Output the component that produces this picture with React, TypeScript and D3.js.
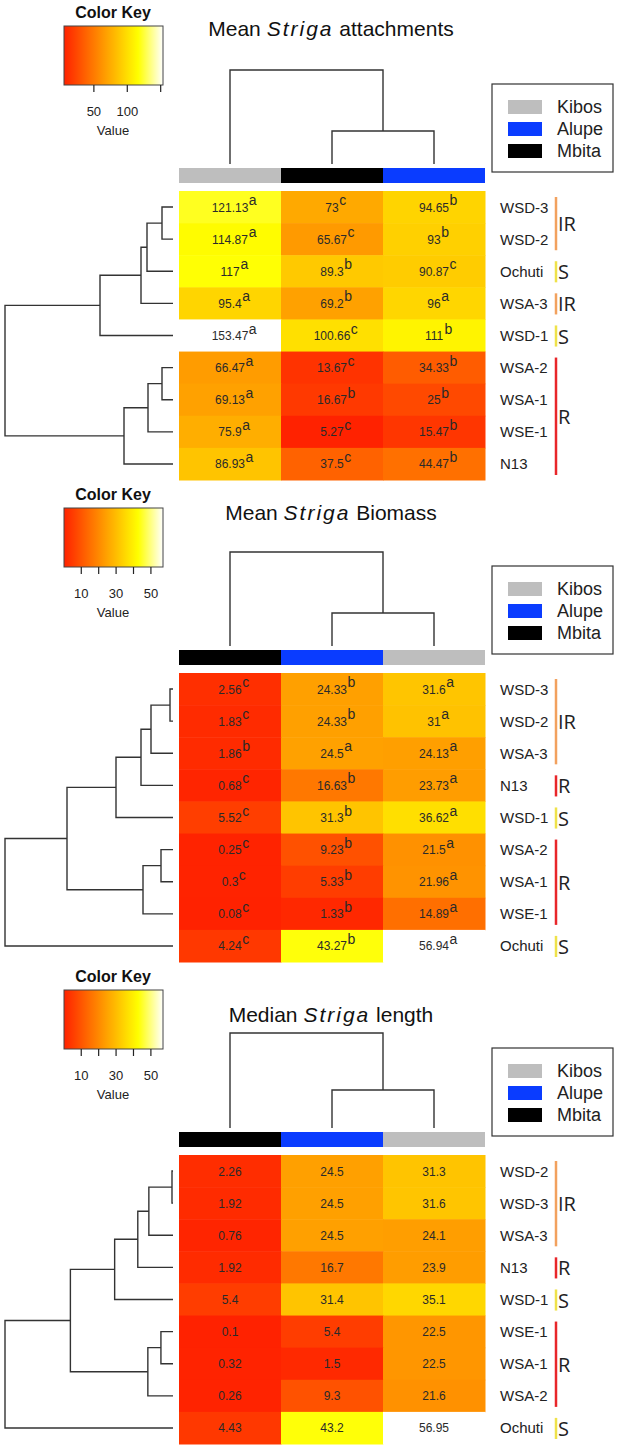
import React from 'react';
import * as d3 from 'd3';

// ---------- data ----------
const LOCATIONS = ['Kibos', 'Alupe', 'Mbita'];
const LOCATION_COLORS = ['#bebebe', '#0a3cff', '#000000'];
const GROUP_COLORS: Record<string, string> = { IR: '#f2a15e', S: '#efe24a', R: '#e8262a' };

// Panel 1 — Mean Striga attachments
const P1_ROWS = ['WSD-3', 'WSD-2', 'Ochuti', 'WSA-3', 'WSD-1', 'WSA-2', 'WSA-1', 'WSE-1', 'N13'];
const P1_COLS = ['Kibos', 'Mbita', 'Alupe'];
const P1_VALUES = [
  [121.13, 73, 94.65],
  [114.87, 65.67, 93],
  [117, 89.3, 90.87],
  [95.4, 69.2, 96],
  [153.47, 100.66, 111],
  [66.47, 13.67, 34.33],
  [69.13, 16.67, 25],
  [75.9, 5.27, 15.47],
  [86.93, 37.5, 44.47],
];
const P1_LETTERS = [
  ['a', 'c', 'b'], ['a', 'c', 'b'], ['a', 'b', 'c'], ['a', 'b', 'a'], ['a', 'c', 'b'],
  ['a', 'c', 'b'], ['a', 'b', 'b'], ['a', 'c', 'b'], ['a', 'c', 'b'],
];
const P1_ROW_MERGES = [[-1, -2, 11], [1, -3, 26], [2, -4, 32], [3, -5, 73], [-6, -7, 11], [5, -8, 25], [6, -9, 49], [4, 7, 168]];
const P1_COL_MERGES = [[-2, -3, 33], [-1, 1, 94]];
const P1_GROUPS: [string, number, number][] = [['IR', 0, 1], ['S', 2, 2], ['IR', 3, 3], ['S', 4, 4], ['R', 5, 8]];
const P1_KEY_TICKS = [50, 100, 150];
const P1_KEY_LABELS = [50, 100];

// Panel 2 — Mean Striga Biomass
const P2_ROWS = ['WSD-3', 'WSD-2', 'WSA-3', 'N13', 'WSD-1', 'WSA-2', 'WSA-1', 'WSE-1', 'Ochuti'];
const P2_COLS = ['Mbita', 'Alupe', 'Kibos'];
const P2_VALUES = [
  [2.56, 24.33, 31.6],
  [1.83, 24.33, 31],
  [1.86, 24.5, 24.13],
  [0.68, 16.63, 23.73],
  [5.52, 31.3, 36.62],
  [0.25, 9.23, 21.5],
  [0.3, 5.33, 21.96],
  [0.08, 1.33, 14.89],
  [4.24, 43.27, 56.94],
];
const P2_LETTERS = [
  ['c', 'b', 'a'], ['c', 'b', 'a'], ['b', 'a', 'a'], ['c', 'b', 'a'], ['c', 'b', 'a'],
  ['c', 'b', 'a'], ['c', 'b', 'a'], ['c', 'b', 'a'], ['c', 'b', 'a'],
];
const P2_ROW_MERGES = [[-1, -2, 3], [1, -3, 22], [2, -4, 32], [3, -5, 57], [-6, -7, 12], [5, -8, 30], [4, 6, 106], [7, -9, 168]];
const P2_COL_MERGES = [[-2, -3, 33], [-1, 1, 94]];
const P2_GROUPS: [string, number, number][] = [['IR', 0, 2], ['R', 3, 3], ['S', 4, 4], ['R', 5, 7], ['S', 8, 8]];
const P2_KEY_TICKS = [10, 20, 30, 40, 50];
const P2_KEY_LABELS = [10, 30, 50];

// Panel 3 — Median Striga length
const P3_ROWS = ['WSD-2', 'WSD-3', 'WSA-3', 'N13', 'WSD-1', 'WSE-1', 'WSA-1', 'WSA-2', 'Ochuti'];
const P3_COLS = ['Mbita', 'Alupe', 'Kibos'];
const P3_VALUES = [
  [2.26, 24.5, 31.3],
  [1.92, 24.5, 31.6],
  [0.76, 24.5, 24.1],
  [1.92, 16.7, 23.9],
  [5.4, 31.4, 35.1],
  [0.1, 5.4, 22.5],
  [0.32, 1.5, 22.5],
  [0.26, 9.3, 21.6],
  [4.43, 43.2, 56.95],
];
const P3_ROW_MERGES = [[-1, -2, 1], [1, -3, 24], [2, -4, 35], [3, -5, 58], [-6, -7, 12], [5, -8, 25], [4, 6, 102], [7, -9, 167]];
const P3_COL_MERGES = [[-2, -3, 38], [-1, 1, 95]];
const P3_GROUPS: [string, number, number][] = [['IR', 0, 2], ['R', 3, 3], ['S', 4, 4], ['R', 5, 7], ['S', 8, 8]];
const P3_KEY_TICKS = [10, 20, 30, 40, 50];
const P3_KEY_LABELS = [10, 30, 50];

// ---------- helpers ----------
const FONT = "'Liberation Sans', Arial, sans-serif";

function heat(t: number): string {
  t = Math.max(0, Math.min(1, t));
  if (t <= 0.75) return d3.hsl(8 + 52 * (t / 0.75), 1, 0.5).formatHex();
  return d3.interpolateRgb('#ffff00', '#ffffff')((t - 0.75) / 0.25);
}

function textWidth(s: string, fs: number) {
  let w = 0;
  for (const ch of s) w += ch === '.' ? 0.278 : 0.556;
  return w * fs;
}

type Merge = number[];

function dendroSegments(
  merges: Merge[],
  leafPos: (i: number) => number,
  hPos: (h: number) => number,
  horizontal: boolean
) {
  const nodes: { p: number; h: number }[] = [];
  const paths: string[] = [];
  const child = (c: number) => (c < 0 ? { p: leafPos(-c - 1), h: 0 } : nodes[c - 1]);
  merges.forEach(([a, b, h]) => {
    const A = child(a);
    const B = child(b);
    const p = d3.path();
    if (horizontal) {
      p.moveTo(hPos(A.h), A.p);
      p.lineTo(hPos(h), A.p);
      p.lineTo(hPos(h), B.p);
      p.lineTo(hPos(B.h), B.p);
    } else {
      p.moveTo(A.p, hPos(A.h));
      p.lineTo(A.p, hPos(h));
      p.lineTo(B.p, hPos(h));
      p.lineTo(B.p, hPos(B.h));
    }
    paths.push(p.toString());
    nodes.push({ p: (A.p + B.p) / 2, h });
  });
  return paths;
}

interface PanelProps {
  id: string;
  lead: string;
  rest: string;
  titleY: number;
  heatTop: number;
  rows: string[];
  cols: string[];
  values: number[][];
  letters: string[][] | null;
  rowMerges: Merge[];
  colMerges: Merge[];
  groups: [string, number, number][];
  keyTicks: number[];
  keyLabels: number[];
}

function Panel(p: PanelProps) {
  const H = p.heatTop;
  const heatH = 289;
  const y = d3.scaleBand<string>().domain(p.rows).range([H, H + heatH]);
  const x = d3.scaleBand<string>().domain(p.cols).range([179, 485]);
  const flat = p.values.flat();
  const ext = d3.extent(flat) as [number, number];
  const color = (v: number) => heat((v - ext[0]) / (ext[1] - ext[0]));

  const rowMax = d3.max(p.rowMerges, (m) => m[2]) as number;
  const rowX = d3.scaleLinear().domain([0, rowMax]).range([173, 5]);
  const rowPaths = dendroSegments(p.rowMerges, (i) => (y(p.rows[i]) as number) + y.bandwidth() / 2, rowX, true);

  const colY = d3.scaleLinear().domain([0, 100]).range([H - 27, H - 127]);
  const colPaths = dendroSegments(p.colMerges, (i) => (x(p.cols[i]) as number) + x.bandwidth() / 2, colY, false);

  // colour key
  const keyTop = H - 165;
  const keyH = 59;
  const keyX = d3.scaleLinear().domain(ext).range([64, 163]);
  const gradId = `grad-${p.id}`;
  const stops = d3.range(0, 1.0001, 0.05);

  const legendTop = H - 107;

  return (
    <g>
      {/* colour key */}
      <defs>
        <linearGradient id={gradId} x1="0" x2="1" y1="0" y2="0">
          {stops.map((s) => (
            <stop key={s} offset={s} stopColor={heat(s)} />
          ))}
        </linearGradient>
      </defs>
      <text x={113} y={keyTop - 14} textAnchor="middle" dominantBaseline="central" fontFamily={FONT} fontWeight="bold" fontSize={16} fill="#111">
        Color Key
      </text>
      <rect x={64} y={keyTop} width={99} height={keyH} fill={`url(#${gradId})`} stroke="#444" strokeWidth={1} />
      {p.keyTicks.map((t) => (
        <line key={t} x1={keyX(t)} x2={keyX(t)} y1={keyTop + keyH} y2={keyTop + keyH + 7} stroke="#222" strokeWidth={1.2} />
      ))}
      {p.keyLabels.map((t) => (
        <text key={t} x={keyX(t)} y={keyTop + keyH + 26} textAnchor="middle" dominantBaseline="central" fontFamily={FONT} fontSize={13} fill="#222">
          {t}
        </text>
      ))}
      <text x={113} y={keyTop + keyH + 45} textAnchor="middle" dominantBaseline="central" fontFamily={FONT} fontSize={13} fill="#222">
        Value
      </text>

      {/* title */}
      <text x={331} y={p.titleY} textAnchor="middle" dominantBaseline="central" fontFamily={FONT} fontSize={21} fill="#111">
        <tspan>{p.lead}</tspan>
        <tspan fontStyle="italic" letterSpacing={2}>Striga</tspan>
        <tspan>{p.rest}</tspan>
      </text>

      {/* column dendrogram */}
      {colPaths.map((d, i) => (
        <path key={i} d={d} fill="none" stroke="#333" strokeWidth={1.4} />
      ))}
      {/* column side colours */}
      {p.cols.map((c) => (
        <rect key={c} x={x(c)} y={H - 23} width={x.bandwidth()} height={15} fill={LOCATION_COLORS[LOCATIONS.indexOf(c)]} />
      ))}

      {/* legend */}
      <rect x={492} y={legendTop} width={121} height={88} fill="white" stroke="#333" strokeWidth={1.2} />
      {LOCATIONS.map((l, i) => {
        const cy = legendTop + 23 + i * 22;
        return (
          <g key={l}>
            <rect x={508} y={cy - 7} width={34} height={14} fill={LOCATION_COLORS[i]} />
            <text x={557} y={cy} dominantBaseline="central" fontFamily={FONT} fontSize={18} fill="#222">
              {l}
            </text>
          </g>
        );
      })}

      {/* row dendrogram */}
      {rowPaths.map((d, i) => (
        <path key={i} d={d} fill="none" stroke="#333" strokeWidth={1.4} />
      ))}

      {/* heatmap cells */}
      {p.rows.map((r, ri) =>
        p.cols.map((c, ci) => (
          <rect key={r + c} x={x(c)} y={y(r)} width={x.bandwidth() + 0.5} height={y.bandwidth() + 0.5} fill={color(p.values[ri][ci])} />
        ))
      )}
      {p.rows.map((r, ri) =>
        p.cols.map((c, ci) => {
          const cx = (x(c) as number) + x.bandwidth() / 2;
          const cy = (y(r) as number) + y.bandwidth() / 2;
          const s = String(p.values[ri][ci]);
          const w = textWidth(s, 12);
          return (
            <g key={'t' + r + c}>
              <text x={cx} y={cy + 4.5} textAnchor="middle" fontFamily={FONT} fontSize={12} fill="#2a2a2a">
                {s}
              </text>
              {p.letters && (
                <text x={cx + w / 2 + 0.5} y={cy - 2} fontFamily={FONT} fontSize={14} fill="#2a2a2a">
                  {p.letters[ri][ci]}
                </text>
              )}
            </g>
          );
        })
      )}

      {/* row labels */}
      {p.rows.map((r) => (
        <text key={'l' + r} x={500} y={(y(r) as number) + y.bandwidth() / 2} dominantBaseline="central" fontFamily={FONT} fontSize={15} fill="#222">
          {r}
        </text>
      ))}

      {/* resistance groups */}
      {p.groups.map(([g, a, b], i) => {
        const y1 = (y(p.rows[a]) as number) + 6;
        const y2 = (y(p.rows[b]) as number) + y.bandwidth() - 5;
        return (
          <g key={'g' + i}>
            <line x1={556} x2={556} y1={y1} y2={y2} stroke={GROUP_COLORS[g]} strokeWidth={2.5} />
            <text x={558} y={(y1 + y2) / 2} dominantBaseline="central" fontFamily="'Open Sans', sans-serif" fontSize={20} fill="#222">
              {g}
            </text>
          </g>
        );
      })}
    </g>
  );
}

export default function App() {
  return (
    <svg width={618} height={1448} style={{ position: 'absolute', left: 0, top: 0, background: 'white' }}>
      <rect width={618} height={1448} fill="white" />
      <Panel
        id="p1" lead="Mean " rest=" attachments" titleY={28} heatTop={191}
        rows={P1_ROWS} cols={P1_COLS} values={P1_VALUES} letters={P1_LETTERS}
        rowMerges={P1_ROW_MERGES} colMerges={P1_COL_MERGES} groups={P1_GROUPS}
        keyTicks={P1_KEY_TICKS} keyLabels={P1_KEY_LABELS}
      />
      <Panel
        id="p2" lead="Mean " rest=" Biomass" titleY={512} heatTop={673}
        rows={P2_ROWS} cols={P2_COLS} values={P2_VALUES} letters={P2_LETTERS}
        rowMerges={P2_ROW_MERGES} colMerges={P2_COL_MERGES} groups={P2_GROUPS}
        keyTicks={P2_KEY_TICKS} keyLabels={P2_KEY_LABELS}
      />
      <Panel
        id="p3" lead="Median " rest=" length" titleY={1014} heatTop={1155}
        rows={P3_ROWS} cols={P3_COLS} values={P3_VALUES} letters={null}
        rowMerges={P3_ROW_MERGES} colMerges={P3_COL_MERGES} groups={P3_GROUPS}
        keyTicks={P3_KEY_TICKS} keyLabels={P3_KEY_LABELS}
      />
    </svg>
  );
}
